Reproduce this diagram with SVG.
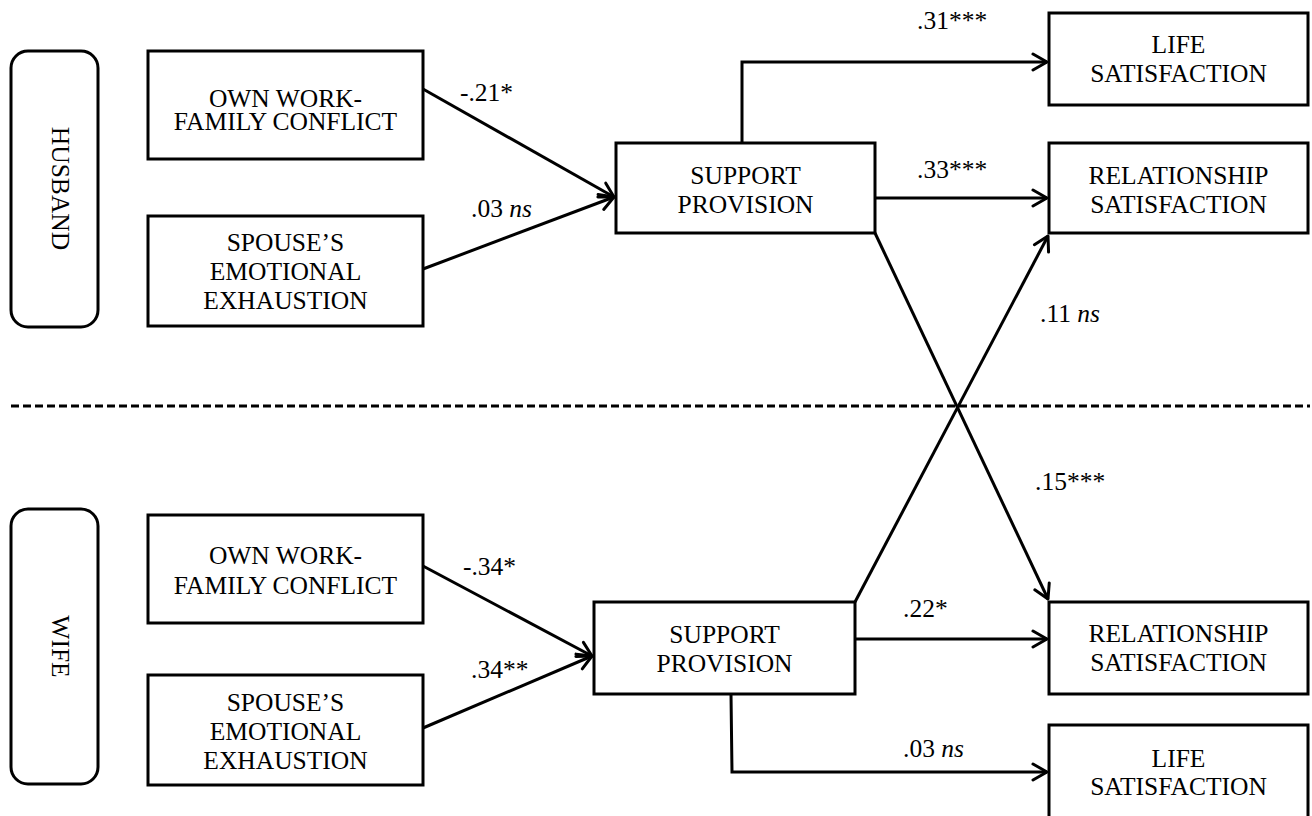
<svg xmlns="http://www.w3.org/2000/svg" width="1312" height="816" viewBox="0 0 1312 816" font-family="'Liberation Serif', 'Times New Roman', 'DejaVu Serif', serif">
<style>
text{font-family:'Liberation Serif','Times New Roman','DejaVu Serif',serif;font-size:25.5px;fill:#000}
.box{fill:#fff;stroke:#000;stroke-width:3}
.t{text-anchor:middle}
.c{fill:none;stroke:#000;stroke-width:3}
.dash{fill:none;stroke:#000;stroke-width:3;stroke-dasharray:8 4}
</style>
<defs>
<marker id="ah" viewBox="-16 -10 20 20" markerWidth="20" markerHeight="20" refX="0" refY="0" markerUnits="userSpaceOnUse" orient="auto">
<path d="M-14,-8 L0,0 L-14,8" fill="none" stroke="#000" stroke-width="3" stroke-linejoin="round" stroke-linecap="round"/>
</marker>
</defs>
<rect width="1312" height="816" fill="#fff"/>

<g id="connectors">
<line class="c" x1="423" y1="89" x2="614" y2="197" marker-end="url(#ah)"/>
<line class="c" x1="423" y1="269" x2="614" y2="197" marker-end="url(#ah)"/>
<polyline class="c" points="742,143 742,62 1047,62" marker-end="url(#ah)"/>
<line class="c" x1="875" y1="198" x2="1047" y2="198" marker-end="url(#ah)"/>
<line class="c" x1="875" y1="233" x2="1048" y2="599" marker-end="url(#ah)"/>
<line class="c" x1="423" y1="566" x2="592" y2="656" marker-end="url(#ah)"/>
<line class="c" x1="423" y1="728" x2="592" y2="656" marker-end="url(#ah)"/>
<line class="c" x1="855" y1="602" x2="1048" y2="236" marker-end="url(#ah)"/>
<line class="c" x1="855" y1="639" x2="1047" y2="639" marker-end="url(#ah)"/>
<polyline class="c" points="731,694 732,772 1047,772" marker-end="url(#ah)"/>
<line class="dash" x1="11" y1="406" x2="1310" y2="406"/>
</g>

<g id="labels">
<text x="460" y="101">-.21*</text>
<text x="471" y="217">.03 <tspan font-style="italic">ns</tspan></text>
<text x="917" y="29">.31***</text>
<text x="917" y="178">.33***</text>
<text x="1040" y="322">.11 <tspan font-style="italic">ns</tspan></text>
<text x="1035" y="490">.15***</text>
<text x="463" y="575">-.34*</text>
<text x="471" y="678">.34**</text>
<text x="903" y="617">.22*</text>
<text x="903" y="757">.03 <tspan font-style="italic">ns</tspan></text>
</g>

<g id="husband">
<rect class="box" x="11" y="51" width="87" height="276" rx="17"/>
<text class="t" transform="translate(52,188.5) rotate(90)">HUSBAND</text>
</g>
<g id="h-own-wfc">
<rect class="box" x="148" y="51" width="275" height="108"/>
<text class="t" x="285.5" y="107">OWN WORK-</text>
<text class="t" x="285.5" y="130">FAMILY CONFLICT</text>
</g>
<g id="h-spouse-ee">
<rect class="box" x="148" y="216" width="275" height="110"/>
<text class="t" x="285.5" y="251">SPOUSE’S</text>
<text class="t" x="285.5" y="280">EMOTIONAL</text>
<text class="t" x="285.5" y="309">EXHAUSTION</text>
</g>
<g id="h-support">
<rect class="box" x="616" y="143" width="259" height="90"/>
<text class="t" x="745.5" y="184">SUPPORT</text>
<text class="t" x="745.5" y="213">PROVISION</text>
</g>
<g id="h-life">
<rect class="box" x="1049" y="13" width="259" height="92"/>
<text class="t" x="1178.5" y="53">LIFE</text>
<text class="t" x="1178.5" y="82">SATISFACTION</text>
</g>
<g id="h-relationship">
<rect class="box" x="1049" y="143" width="259" height="90"/>
<text class="t" x="1178.5" y="184">RELATIONSHIP</text>
<text class="t" x="1178.5" y="213">SATISFACTION</text>
</g>

<g id="wife">
<rect class="box" x="11" y="509" width="87" height="275" rx="17"/>
<text class="t" transform="translate(52,646.5) rotate(90)">WIFE</text>
</g>
<g id="w-own-wfc">
<rect class="box" x="148" y="515" width="275" height="108"/>
<text class="t" x="285.5" y="564">OWN WORK-</text>
<text class="t" x="285.5" y="594">FAMILY CONFLICT</text>
</g>
<g id="w-spouse-ee">
<rect class="box" x="148" y="675" width="275" height="110"/>
<text class="t" x="285.5" y="711">SPOUSE’S</text>
<text class="t" x="285.5" y="740">EMOTIONAL</text>
<text class="t" x="285.5" y="769">EXHAUSTION</text>
</g>
<g id="w-support">
<rect class="box" x="594" y="602" width="261" height="92"/>
<text class="t" x="724.5" y="643">SUPPORT</text>
<text class="t" x="724.5" y="672">PROVISION</text>
</g>
<g id="w-relationship">
<rect class="box" x="1049" y="602" width="259" height="92"/>
<text class="t" x="1178.5" y="642">RELATIONSHIP</text>
<text class="t" x="1178.5" y="671">SATISFACTION</text>
</g>
<g id="w-life">
<rect class="box" x="1049" y="725" width="259" height="95"/>
<text class="t" x="1178.5" y="767">LIFE</text>
<text class="t" x="1178.5" y="795">SATISFACTION</text>
</g>
</svg>
